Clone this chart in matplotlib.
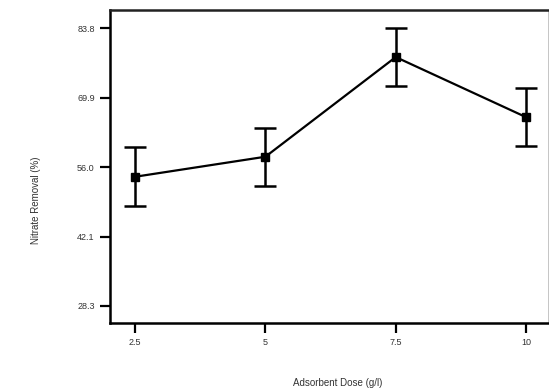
import matplotlib
matplotlib.use("Agg")
import matplotlib.pyplot as plt

plt.rcParams["font.family"] = ["Liberation Sans", "DejaVu Sans"]

dose = [2.5, 5, 7.5, 10]
removal = [54.1, 58.1, 78.0, 66.0]
error = [5.9, 5.8, 5.8, 5.8]
yticks = [28.3, 42.1, 56.0, 69.9, 83.8]
xtick_labels = ["2.5", "5", "7.5", "10"]

fig = plt.figure(figsize=(5.49, 3.92), dpi=100)
ax = fig.add_axes([110/549, 1-323/392, (548-110)/549, (323-10)/392])

ax.errorbar(dose, removal, yerr=error, color="black", lw=1.6, marker="s", ms=6,
            ecolor="black", elinewidth=1.8, capsize=8, capthick=1.8)

ax.set_xlim(2.02, 10.42)
ax.set_ylim(24.9, 87.4)
ax.set_xticks(dose)
ax.set_xticklabels(xtick_labels)
ax.set_yticks(yticks)
ax.set_yticklabels([f"{v:.1f}" for v in yticks])
ax.tick_params(direction="out", length=7, width=1.6, labelsize=6.5, pad=4, colors="black")
ax.tick_params(axis="both", labelcolor="#333333")

for s in ["left", "bottom", "top"]:
    ax.spines[s].set_linewidth(1.8)
    ax.spines[s].set_color("black")
ax.spines["top"].set_color("#222222")
ax.spines["right"].set_linewidth(0.6)
ax.spines["right"].set_color("#bbbbbb")

fig.text(36/549, 1-200/392, "Nitrate Removal (%)", rotation=90, ha="center", va="center",
         fontsize=7, color="#333333")
fig.text(338/549, 1-383/392, "Adsorbent Dose (g/l)", ha="center", va="center",
         fontsize=7, color="#333333")

fig.savefig("out.png", dpi=100)
